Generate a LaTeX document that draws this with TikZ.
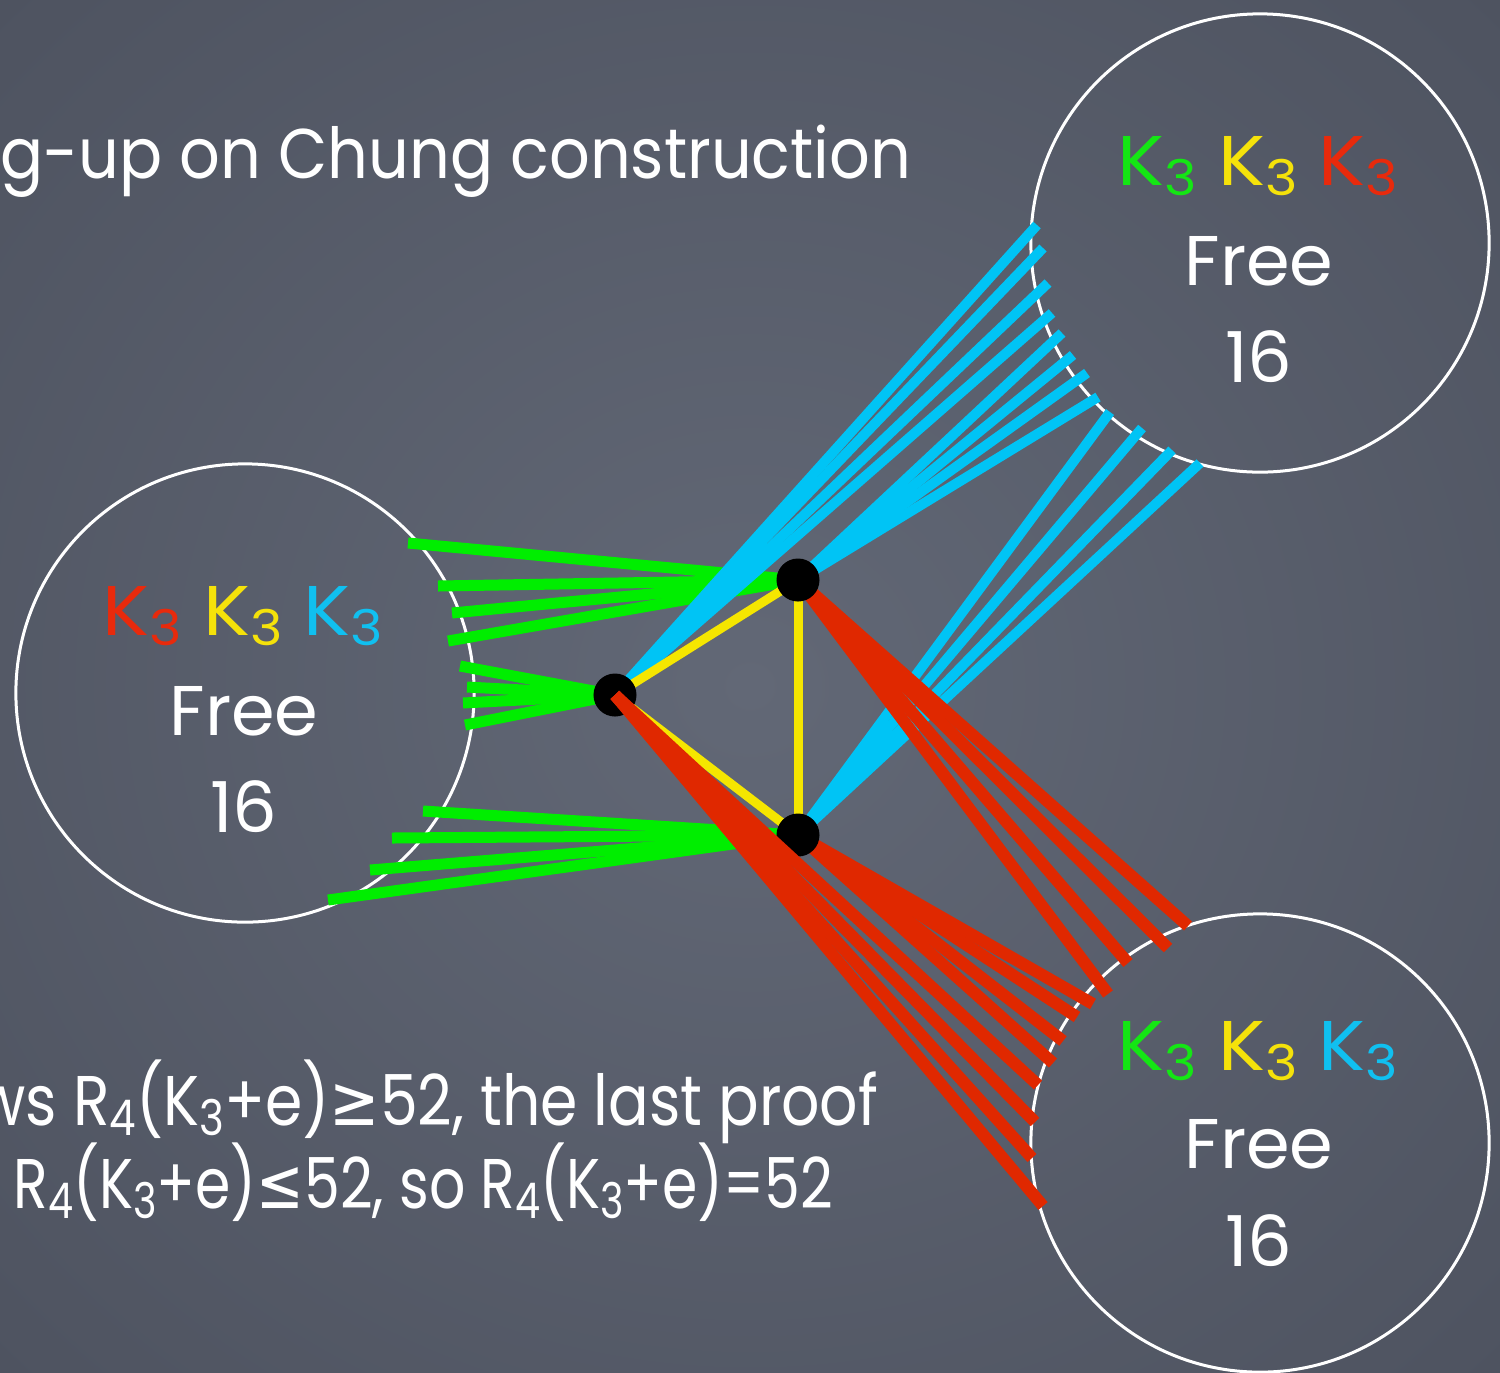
\documentclass[tikz,border=0pt]{standalone}
\usepackage{fontspec}
\setmainfont{Poppins}
\newfontfamily\symfont{DejaVu Sans}
\definecolor{bgin}{RGB}{98,104,118}
\definecolor{bgout}{RGB}{78,83,96}
\definecolor{cgreen}{RGB}{0,238,0}
\definecolor{cyellow}{RGB}{245,230,0}
\definecolor{cred}{RGB}{224,40,0}
\definecolor{ccyan}{RGB}{0,196,245}
\definecolor{tgreen}{RGB}{20,230,20}
\definecolor{tyellow}{RGB}{245,226,10}
\definecolor{tred}{RGB}{232,42,12}
\definecolor{tcyan}{RGB}{16,192,240}
\newcommand\subs[1]{\raisebox{-0.28ex}{\fontsize{14pt}{14pt}\selectfont #1}}
\newcommand\Kt{K\subs{3}}
\tikzset{
  chalk/.style={text=white,font=\fontsize{20pt}{24pt}\selectfont,inner sep=0pt},
  bigcirc/.style={circle,draw=white,line width=0.03cm,minimum size=4.58cm,inner sep=0pt},
  vdot/.style={circle,fill=black,minimum size=0.43cm,inner sep=0pt},
  greenl/.style={draw=cgreen,line width=0.11cm},
  cyanl/.style={draw=ccyan,line width=0.10cm},
  redl/.style={draw=cred,line width=0.12cm},
  yell/.style={draw=cyellow,line width=0.09cm},
}
\begin{document}
\begin{tikzpicture}[x=0.01cm,y=-0.01cm]
\useasboundingbox (0,0) rectangle (1500,1372);
\clip (0,0) rectangle (1500,1372);
\shade[inner color=bgin,outer color=bgout] (-300,-300) rectangle (1800,1672);

% circles
\node[bigcirc] (T) at (1260,243) {};
\node[bigcirc] (L) at (245,693) {};
\node[bigcirc] (R) at (1260,1143) {};

% vertices
\coordinate (A) at (615,695);
\coordinate (B) at (798,580);
\coordinate (C) at (798,835);

% end points
\foreach \x/\y [count=\i] in {408/543,438/586,452/613,448/641} {\coordinate (gB\i) at (\x,\y);}
\foreach \x/\y [count=\i] in {460/666,467/687,463/703,465/725} {\coordinate (gA\i) at (\x,\y);}
\foreach \x/\y [count=\i] in {423/811,392/838,370/870,328/900} {\coordinate (gC\i) at (\x,\y);}
\foreach \x/\y [count=\i] in {1037/225,1043/248,1048/283,1052/313} {\coordinate (cA\i) at (\x,\y);}
\foreach \x/\y [count=\i] in {1062/333,1073/355,1087/373,1098/397} {\coordinate (cB\i) at (\x,\y);}
\foreach \x/\y [count=\i] in {1110/412,1142/428,1172/450,1200/463} {\coordinate (cC\i) at (\x,\y);}
\foreach \x/\y [count=\i] in {1188/926,1168/948,1128/963,1108/994} {\coordinate (rB\i) at (\x,\y);}
\foreach \x/\y [count=\i] in {1093/1004,1077/1017,1063/1041,1053/1063} {\coordinate (rC\i) at (\x,\y);}
\foreach \x/\y [count=\i] in {1038/1085,1035/1122,1032/1158,1043/1206} {\coordinate (rA\i) at (\x,\y);}

% green
\foreach \v in {A,B,C}{\foreach \i in {1,...,4}{\draw[greenl] (\v) -- (g\v\i);}}
% cyan
\foreach \v in {A,B,C}{\foreach \i in {1,...,4}{\draw[cyanl] (\v) -- (c\v\i);}}
% yellow triangle
\draw[yell] (A) -- (B);
\draw[yell] (B) -- (C);
\draw[yell] (C) -- (A);
% red from B and C
\foreach \v in {B,C}{\foreach \i in {1,...,4}{\draw[redl] (\v) -- (r\v\i);}}
% dots
\node[vdot] (Ad) at (A) {};
\node[vdot] (Bd) at (B) {};
\node[vdot] (Cd) at (C) {};
% red from A
\foreach \i in {1,...,4}{\draw[redl] (A) -- (rA\i);}

% circle texts
\node[chalk,anchor=base] (tk) at (1258,185) {\resizebox{2.8cm}{\height}{\textcolor{tgreen}{\Kt}\ \textcolor{tyellow}{\Kt}\ \textcolor{tred}{\Kt}}};
\node[chalk,anchor=base] (tf) at (1259,285) {Free};
\node[chalk,anchor=base] (tn) at (1259,382) {16};
\node[chalk,anchor=base] (lk) at (243,635) {\resizebox{2.8cm}{\height}{\textcolor{tred}{\Kt}\ \textcolor{tyellow}{\Kt}\ \textcolor{tcyan}{\Kt}}};
\node[chalk,anchor=base] (lf) at (244,735) {Free};
\node[chalk,anchor=base] (ln) at (244,832) {16};
\node[chalk,anchor=base] (rk) at (1258,1070) {\resizebox{2.8cm}{\height}{\textcolor{tgreen}{\Kt}\ \textcolor{tyellow}{\Kt}\ \textcolor{tcyan}{\Kt}}};
\node[chalk,anchor=base] (rf) at (1259,1168) {Free};
\node[chalk,anchor=base] (rn) at (1259,1266) {16};

% text
\node[chalk,anchor=base west] (title) at (0,178) {\resizebox{9.1cm}{\height}{g-up on Chung construction}};
\node[chalk,anchor=base west] (l1) at (25,1125) {\resizebox{8.52cm}{\height}{\makebox[0pt][r]{w}s R\subs{4}(K\subs{3}+e){\symfont ≥}52, the last proof}};
\node[chalk,anchor=base west] (l2) at (13,1208) {\resizebox{8.19cm}{\height}{R\subs{4}(K\subs{3}+e){\symfont ≤}52, so R\subs{4}(K\subs{3}+e)=52}};
\end{tikzpicture}
\end{document}
